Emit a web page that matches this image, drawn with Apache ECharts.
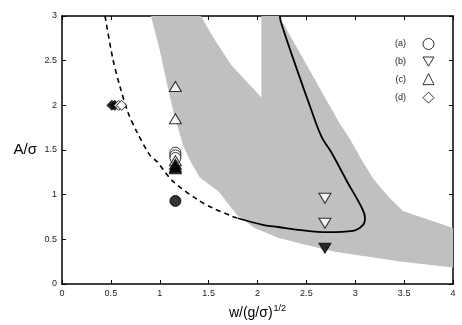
<!DOCTYPE html>
<html><head><meta charset="utf-8">
<script src="https://cdn.jsdelivr.net/npm/echarts@6/dist/echarts.min.js"></script>
<style>html,body{margin:0;padding:0;background:#fff}#c{width:462px;height:325px}</style>
</head><body><div id="c"></div>
<script>
// Shaded (gray) region outline, data coordinates [w, A]
const shadedRegion = [
  [4.0,0.185],[3.46,0.251],[2.79,0.362],[2.49,0.44],[2.21,0.517],[1.97,0.628],[1.79,0.771],
  [1.60,1.037],[1.41,1.192],[1.32,1.36],[1.24,1.547],[1.15,1.88],[1.07,2.26],[1.0,2.62],[0.91,3.0],
  [1.42,3.0],[1.545,2.764],[1.729,2.454],[2.04,2.089],[2.04,3.0],
  [2.22,3.0],[2.844,1.79],[2.946,1.624],[3.06,1.40],[3.182,1.181],[3.325,0.993],[3.488,0.816],[4.0,0.628]
];
// Dashed curve (outside shaded region)
const dashedCurve = [
  [0.44,3.0],[0.52,2.52],[0.593,2.21],[0.675,1.92],[0.767,1.70],[0.90,1.44],[0.972,1.37],
  [1.136,1.148],[1.391,0.941],[1.545,0.849],[1.739,0.759],[1.80,0.736]
];
// Solid curve (inside shaded region)
const solidCurve = [
  [1.80,0.736],[2.066,0.66],[2.21,0.638],[2.414,0.606],[2.72,0.58],[2.977,0.594],[3.08,0.661],
  [3.10,0.738],[3.069,0.849],[2.916,1.148],[2.752,1.48],[2.657,1.643],[2.537,1.99],[2.404,2.40],
  [2.24,2.93],[2.23,3.0]
];
// Markers
const aOpen   = [[1.16,1.47],[1.16,1.44],[1.16,1.41]];
const aFilled = [[1.16,0.93]];
const bOpen   = [[2.69,0.96],[2.69,0.68]];
const bFilled = [[2.69,0.40]];
const cOpen   = [[1.16,2.21],[1.16,1.85],[1.16,1.38]];
const cFilled = [[1.16,1.34],[1.16,1.31],[1.16,1.29]];
const dOpen   = [[0.58,2.0],[0.61,2.0]];
const dFilled = [[0.51,2.0],[0.54,2.0]];
const legendLabels = ['(a)','(b)','(c)','(d)'];

const FONT = 'Liberation Sans, Arial, sans-serif';
const DOWN_TRI = 'path://M0,0L12,0L6,10Z';
const chart = echarts.init(document.getElementById('c'), null, {renderer:'canvas'});

function openStyle(){ return {color:'#fff', borderColor:'#000', borderWidth:1}; }
function filledStyle(){ return {color:'#000', borderColor:'#000', borderWidth:1}; }

const axisCommon = {
  type:'value', splitLine:{show:false},
  axisLine:{show:true, onZero:false, lineStyle:{color:'#000', width:1.5}},
  axisTick:{show:true, inside:true, length:4, lineStyle:{color:'#000', width:1}}
};

const legendIcons = ['circle', DOWN_TRI, 'triangle', 'diamond'];

chart.setOption({
  animation:false,
  backgroundColor:'#fff',
  textStyle:{fontFamily:FONT},
  grid:{left:62, right:9, top:16, bottom:38},
  legend:{
    data: legendLabels.map((n,i) => ({name:n, icon:legendIcons[i]})),
    orient:'vertical', left:390, top:33, align:'right',
    itemWidth:11, itemHeight:11, itemGap:6.5,
    selectedMode:false,
    itemStyle:{color:'#fff', borderColor:'#000', borderWidth:1},
    textStyle:{fontSize:9, color:'#222', fontFamily:FONT, padding:[0,12,0,0]}
  },
  xAxis:[
    Object.assign({}, axisCommon, {
      min:0, max:4, interval:0.5, position:'bottom',
      axisLabel:{fontSize:9, color:'#222', margin:5, fontFamily:FONT},
      name:'{a|w/(g/σ)}{b|1/2}', nameLocation:'middle', nameGap:20,
      nameTextStyle:{rich:{
        a:{fontSize:14, color:'#000', fontFamily:FONT, lineHeight:18},
        b:{fontSize:9, color:'#000', fontFamily:FONT, verticalAlign:'top', padding:[0,0,0,1]}
      }}
    }),
    Object.assign({}, axisCommon, {
      min:0, max:4, interval:0.5, position:'top', axisLabel:{show:false}
    })
  ],
  yAxis:[
    Object.assign({}, axisCommon, {
      min:0, max:3, interval:0.5, position:'left',
      axisLabel:{fontSize:9, color:'#222', margin:5, fontFamily:FONT},
      name:'A/σ', nameLocation:'middle', nameRotate:0, nameGap:25,
      nameTextStyle:{fontSize:15, color:'#000', fontFamily:FONT}
    }),
    Object.assign({}, axisCommon, {
      min:0, max:3, interval:0.5, position:'right', axisLabel:{show:false}
    })
  ],
  series:[
    {
      type:'custom', name:'region', z:1, silent:true,
      data: shadedRegion,
      encode:{x:0, y:1},
      renderItem:function(params, api){
        if (params.dataIndex !== 0) return null;
        const pts = shadedRegion.map(p => api.coord(p));
        return {type:'polygon', shape:{points:pts}, style:{fill:'#c0c0c0', stroke:null}};
      }
    },
    {
      type:'line', name:'dashed', z:3, data:dashedCurve, showSymbol:false, smooth:0.3,
      lineStyle:{color:'#000', width:1.6, type:[5,4]}
    },
    {
      type:'line', name:'solid', z:3, data:solidCurve, showSymbol:false, smooth:0.4,
      lineStyle:{color:'#000', width:1.8}
    },
    {type:'scatter', name:'(a)', z:5, data:aOpen, symbol:'circle', symbolSize:11, itemStyle:openStyle()},
    {type:'scatter', name:'(a) filled', z:5, data:aFilled, symbol:'circle', symbolSize:11, itemStyle:filledStyle()},
    {type:'scatter', name:'(b)', z:5, data:bOpen, symbol:DOWN_TRI, symbolSize:[12,10], itemStyle:openStyle()},
    {type:'scatter', name:'(b) filled', z:5, data:bFilled, symbol:DOWN_TRI, symbolSize:[12,10], itemStyle:filledStyle()},
    {type:'scatter', name:'(c)', z:5, data:cOpen, symbol:'triangle', symbolSize:[12,10], itemStyle:openStyle()},
    {type:'scatter', name:'(c) filled', z:6, data:cFilled, symbol:'triangle', symbolSize:[12,10], itemStyle:filledStyle()},
    {type:'scatter', name:'(d)', z:5, data:dOpen, symbol:'diamond', symbolSize:[10,10], itemStyle:openStyle()},
    {type:'scatter', name:'(d) filled', z:4, data:dFilled, symbol:'diamond', symbolSize:[10,10], itemStyle:filledStyle()}
  ]
});
</script>
</body></html>
